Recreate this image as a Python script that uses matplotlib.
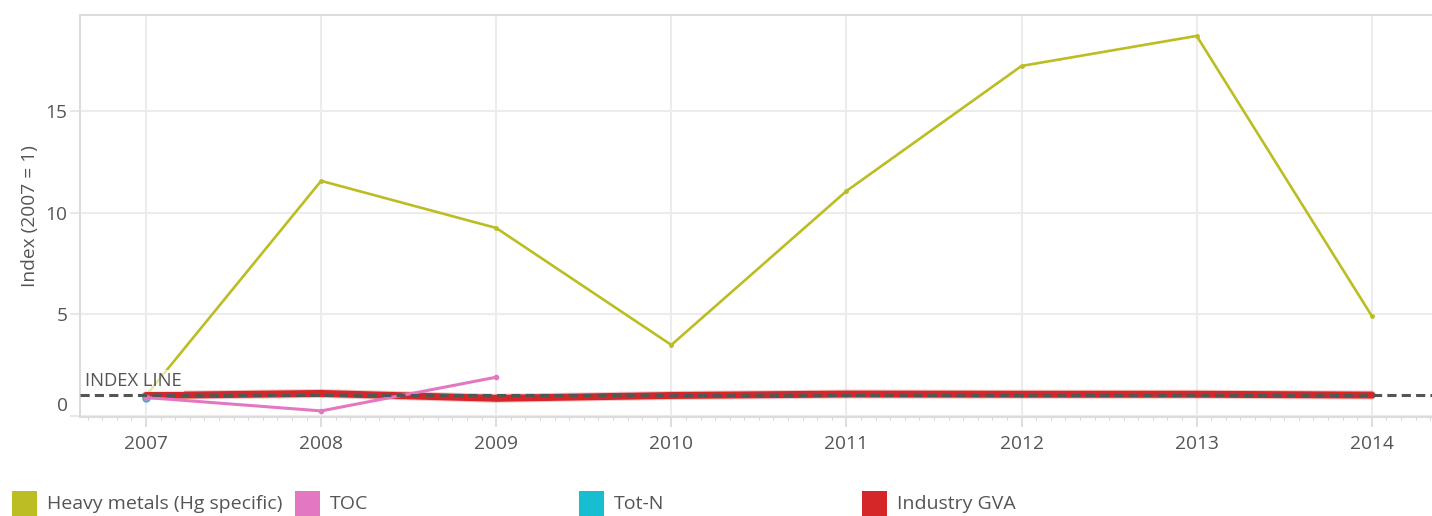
import matplotlib
matplotlib.use("Agg")
import matplotlib.pyplot as plt
from matplotlib.patches import Rectangle
from matplotlib.ticker import FixedLocator, MultipleLocator
from matplotlib.transforms import ScaledTranslation, blended_transform_factory

plt.rcParams['font.family'] = ['Open Sans', 'DejaVu Sans']

# data
years = [2007, 2008, 2009, 2010, 2011, 2012, 2013, 2014]
heavy_metals = [1.0, 11.57, 9.25, 3.49, 11.07, 17.23, 18.71, 4.92]
toc_years = [2007, 2008, 2009]
toc = [0.9, 0.24, 1.9]
totn_years = [2007]
totn = [0.9]
industry_gva = [1.0, 1.1, 0.86, 1.0, 1.07, 1.06, 1.06, 1.02]
index_value = 1.0

series_names = ['Heavy metals (Hg specific)', 'TOC', 'Tot-N', 'Industry GVA']
series_colors = ['#bcbd22', '#e377c2', '#17becf', '#d62728']
y_ticks = [0, 5, 10, 15]

W, H = 1432, 516
fig = plt.figure(figsize=(W / 100, H / 100), dpi=100)
ax = fig.add_axes([80 / W, 1 - 417 / H, 1 - 80 / W, (417 - 15) / H])

grey_txt = '#555555'
ax.set_xlim(2006.623, 2014.344)
ax.set_ylim(-0.06, 19.74)

ax.plot(years, heavy_metals, color=series_colors[0], lw=1.9, marker='o', ms=2.5, zorder=3)
ax.plot(years, industry_gva, color=series_colors[3], lw=6.5, alpha=0.25,
        solid_capstyle='round', zorder=4)
ax.plot(years, industry_gva, color=series_colors[3], lw=5, marker='o', ms=3,
        solid_capstyle='round', zorder=4)
ax.plot(totn_years, totn, color=series_colors[2], lw=2, marker='o', ms=5, zorder=4.5)
ax.plot(toc_years, toc, color=series_colors[1], lw=2.2, marker='o', ms=3, zorder=5)

ax.axhline(index_value, color='#555555', lw=2.2, linestyle=(0, (3, 1.7)), zorder=6)
ann = ax.annotate('INDEX LINE', xy=(0, index_value),
                  xycoords=blended_transform_factory(ax.transAxes, ax.transData),
                  xytext=(3.5, 4), textcoords='offset points', fontsize=13.3,
                  color=grey_txt, ha='left', va='bottom', zorder=7)
ann.set_bbox(dict(facecolor='white', alpha=0.65, edgecolor='none', pad=1.5))

# axes styling
ax.yaxis.set_major_locator(FixedLocator(y_ticks))
ax.xaxis.set_major_locator(FixedLocator(years))
ax.xaxis.set_minor_locator(MultipleLocator(1 / 12))
ax.grid(True, which='major', color='#ececec', lw=1.5, zorder=0)
ax.set_axisbelow(True)
for side in ['left', 'bottom', 'top']:
    ax.spines[side].set_color('#dcdcdc')
    ax.spines[side].set_linewidth(1.5)
ax.spines['right'].set_visible(False)
ax.tick_params(axis='x', which='major', length=7, width=1.2, color='#d8d8d8',
               pad=6, labelsize=13.8, labelcolor=grey_txt)
ax.tick_params(axis='x', which='minor', length=2, width=0.7, color='#d4d4d4')
ax.tick_params(axis='y', length=7, width=1.2, color='#e4e4e4', pad=2,
               labelsize=13.8, labelcolor=grey_txt)
ax.set_yticklabels([str(t) for t in y_ticks])
ax.set_xticklabels([str(y) for y in years])
ax.set_ylabel('Index (2007 = 1)', fontsize=13.8, color=grey_txt, labelpad=5)

# lift the zero label clear of the x axis, as in the original
for lab in ax.get_yticklabels():
    if lab.get_text() == '0':
        lab.set_transform(lab.get_transform() + ScaledTranslation(0, 0.12, fig.dpi_scale_trans))

# legend row along the bottom
for i, (name, col) in enumerate(zip(series_names, series_colors)):
    x0 = 12 + 283.3 * i
    fig.patches.append(Rectangle((x0 / W, 1 - 517 / H), 25 / W, 26 / H,
                                 transform=fig.transFigure, facecolor=col,
                                 edgecolor='none'))
    fig.text((x0 + 35) / W, 1 - 504 / H, name, fontsize=14, color=grey_txt,
             ha='left', va='center')

fig.savefig('out.png', dpi=100)
